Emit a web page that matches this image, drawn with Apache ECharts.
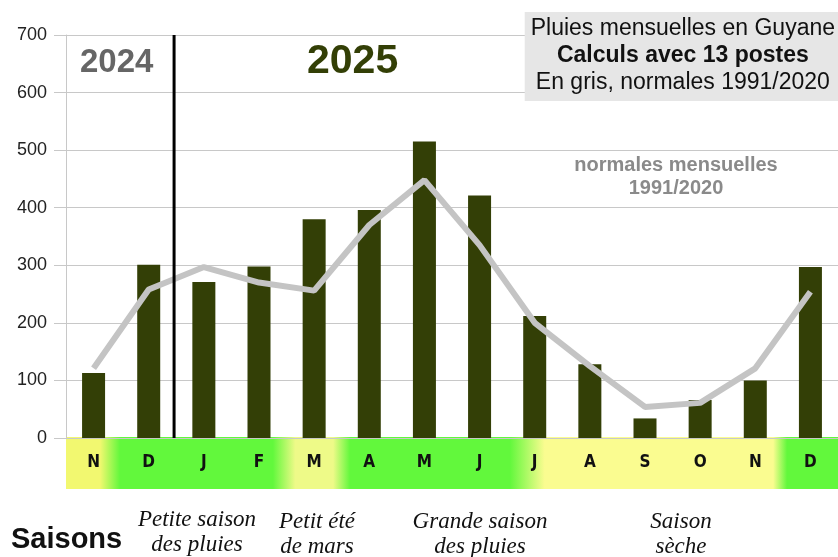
<!DOCTYPE html>
<html>
<head>
<meta charset="utf-8">
<script src="https://cdn.jsdelivr.net/npm/echarts@6/dist/echarts.min.js"></script>
<style>
  html, body { margin: 0; padding: 0; background: #fff; }
  #chart { width: 838px; height: 557px; }
</style>
</head>
<body>
<div id="chart"></div>
<script>
// mois de novembre 2024 a decembre 2025
var months = ['N', 'D', 'J', 'F', 'M', 'A', 'M', 'J', 'J', 'A', 'S', 'O', 'N', 'D'];
// pluies mensuelles (mm), moyenne des 13 postes
var rain = [113, 301, 271, 298, 380, 396, 515, 421, 212, 128, 34, 66, 100, 297];
// normales 1991/2020
var normals = [121, 258, 297, 270, 256, 370, 448, 335, 200, 125, 54, 61, 121, 254];
var yTicks = [0, 100, 200, 300, 400, 500, 600, 700];
// separation 2024 / 2025 (en unites de mois)
var yearSplit = 1.96;

var myChart = echarts.init(document.getElementById('chart'));

var green = '#62f83c';
var band = new echarts.graphic.LinearGradient(0, 0, 1, 0, [
    {offset: 0, color: '#f2f870'},
    {offset: 0.044, color: '#f2f870'},
    {offset: 0.07, color: green},
    {offset: 0.268, color: green},
    {offset: 0.297, color: '#eefa88'},
    {offset: 0.346, color: '#eefa88'},
    {offset: 0.368, color: green},
    {offset: 0.575, color: green},
    {offset: 0.62, color: '#fafc90'},
    {offset: 0.916, color: '#fafc90'},
    {offset: 0.934, color: green},
    {offset: 1, color: green}
]);

var seasonStyle = {
    fontFamily: 'Liberation Serif',
    fontStyle: 'italic',
    fontSize: 23,
    fill: '#111',
    textAlign: 'center',
    lineHeight: 25
};

var option = {
    backgroundColor: '#fff',
    animation: false,
    title: {
        right: 0,
        top: 10,
        backgroundColor: '#e6e6e6',
        padding: [5, 3, 7, 6],
        text: '{a|Pluies mensuelles en Guyane}\n{b|Calculs avec 13 postes}\n{a|En gris, normales 1991/2020}',
        textStyle: {
            fontWeight: 'normal',
            rich: {
                a: {fontFamily: 'Liberation Sans', fontSize: 23, fontWeight: 'normal', color: '#111', lineHeight: 27, align: 'center'},
                b: {fontFamily: 'Liberation Sans', fontSize: 23, fontWeight: 'bold', color: '#111', lineHeight: 27, align: 'center'}
            }
        }
    },
    grid: {
        left: 66,
        top: 35,
        width: 778,
        height: 403
    },
    xAxis: [
        {
            type: 'category',
            data: months,
            boundaryGap: true,
            axisLine: {show: false},
            axisTick: {show: false},
            axisLabel: {
                margin: 16,
                fontFamily: 'DejaVu Sans Condensed',
                fontWeight: 'bold',
                fontSize: 17,
                color: '#111'
            },
            z: 5
        },
        {
            type: 'value',
            min: 0,
            max: months.length,
            show: false
        }
    ],
    yAxis: {
        type: 'value',
        min: yTicks[0],
        max: yTicks[yTicks.length - 1],
        interval: 100,
        axisLine: {show: true, lineStyle: {color: '#c8c8c8'}},
        axisTick: {show: true, length: 12, lineStyle: {color: '#c8c8c8'}},
        axisLabel: {
            margin: 19,
            fontFamily: 'Liberation Sans',
            fontSize: 18,
            color: '#222'
        },
        splitLine: {lineStyle: {color: '#c8c8c8', width: 1}}
    },
    graphic: [
        {
            type: 'rect',
            z: -1,
            shape: {x: 66, y: 437, width: 772, height: 52},
            style: {fill: band}
        },
        {
            type: 'text', left: 80, top: 46, z: 10,
            style: {text: '2024', fontFamily: 'Liberation Sans', fontWeight: 'bold', fontSize: 33, fill: '#666666'}
        },
        {
            type: 'text', left: 307, top: 41, z: 10,
            style: {text: '2025', fontFamily: 'Liberation Sans', fontWeight: 'bold', fontSize: 41, fill: '#333f06'}
        },
        {
            type: 'text', x: 676, y: 154, z: 10,
            style: {
                text: 'normales mensuelles\n1991/2020',
                fontFamily: 'Liberation Sans', fontWeight: 'bold', fontSize: 20,
                fill: '#8a8a8a', textAlign: 'center', lineHeight: 23
            }
        },
        {
            type: 'text', left: 11, top: 525,
            style: {text: 'Saisons', fontFamily: 'Liberation Sans', fontWeight: 'bold', fontSize: 29, fill: '#111'}
        },
        {type: 'text', x: 197, y: 507, style: Object.assign({text: 'Petite saison\ndes pluies'}, seasonStyle)},
        {type: 'text', x: 317, y: 509, style: Object.assign({text: 'Petit été\nde mars'}, seasonStyle)},
        {type: 'text', x: 480, y: 509, style: Object.assign({text: 'Grande saison\ndes pluies'}, seasonStyle)},
        {type: 'text', x: 681, y: 509, style: Object.assign({text: 'Saison\nsèche'}, seasonStyle)}
    ],
    series: [
        {
            name: 'Pluies',
            type: 'bar',
            data: rain,
            barWidth: 23,
            itemStyle: {color: '#333f06'},
            z: 2
        },
        {
            name: 'Normales',
            type: 'line',
            data: normals,
            symbol: 'none',
            lineStyle: {color: '#c4c4c4', width: 6},
            z: 3
        },
        {
            name: 'separation',
            type: 'line',
            xAxisIndex: 1,
            data: [[yearSplit, yTicks[0]], [yearSplit, yTicks[yTicks.length - 1]]],
            symbol: 'none',
            lineStyle: {color: '#000', width: 3},
            z: 4
        }
    ]
};
myChart.setOption(option);
</script>
</body>
</html>
